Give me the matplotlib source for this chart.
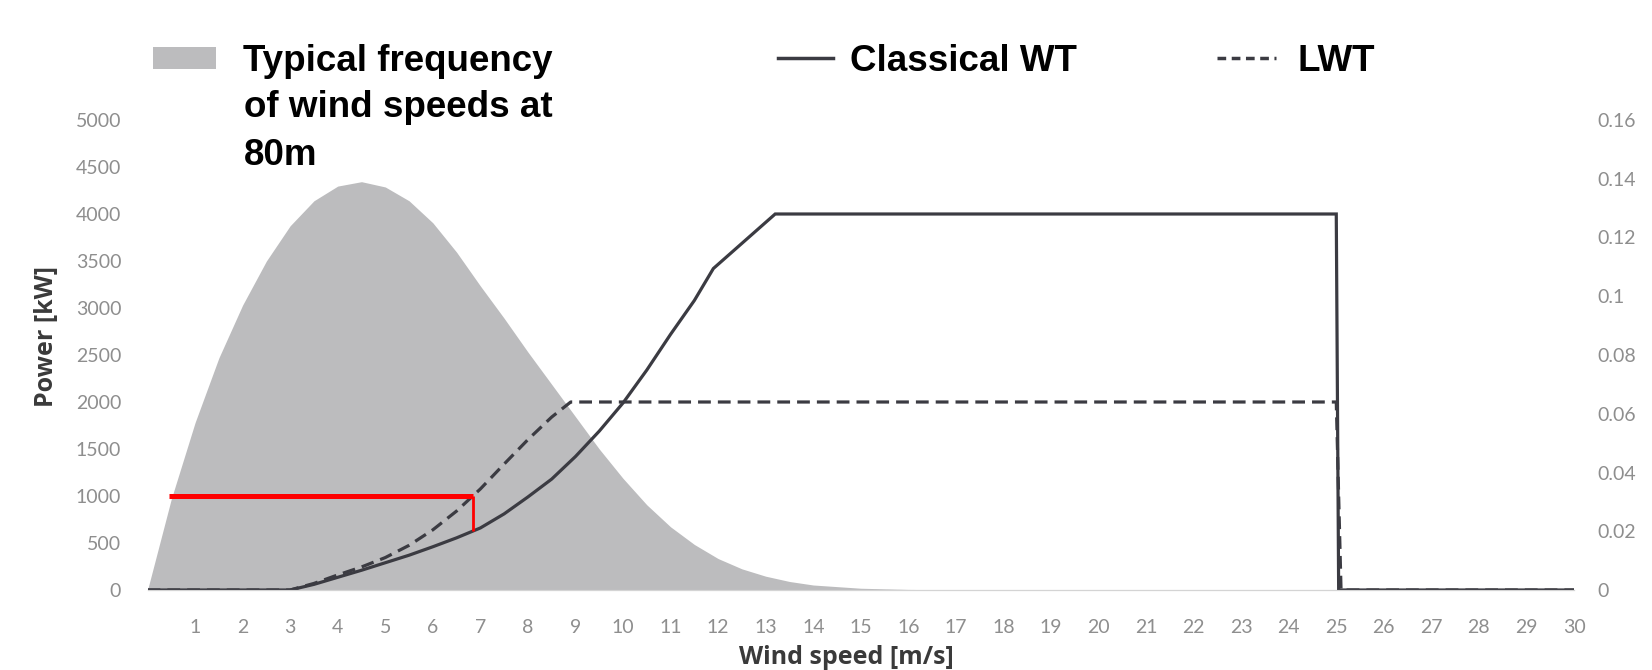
import matplotlib
matplotlib.use("Agg")
import matplotlib.pyplot as plt
from matplotlib.patches import Patch
from matplotlib.lines import Line2D

# data
freq_speed = [0, 0.5, 1, 1.5, 2, 2.5, 3, 3.5, 4, 4.5, 5, 5.5, 6, 6.5, 7, 7.5,
              8, 8.5, 9, 9.5, 10, 10.5, 11, 11.5, 12, 12.5, 13, 13.5, 14, 15, 16, 17, 30]
freq_prob = [0, 0.031, 0.057, 0.079, 0.097, 0.112, 0.124, 0.1325, 0.1375, 0.139,
             0.1372, 0.1325, 0.125, 0.115, 0.1035, 0.0925, 0.081, 0.070, 0.059,
             0.048, 0.038, 0.029, 0.0215, 0.0155, 0.0107, 0.0072, 0.0047, 0.0029,
             0.0017, 0.0006, 0.0002, 0, 0]

classic_speed = [0, 3, 3.5, 4, 4.5, 5, 5.5, 6, 6.5, 7, 7.5, 8, 8.5, 9, 9.5, 10,
                 10.5, 11, 11.5, 11.9, 13.2, 25, 25.05, 30]
classic_power = [0, 0, 60, 135, 210, 290, 370, 460, 555, 660, 810, 990, 1180, 1420,
                 1690, 1990, 2340, 2720, 3080, 3420, 4000, 4000, 0, 0]

lwt_speed = [0, 3, 3.5, 4, 4.5, 5, 5.5, 6, 6.5, 7, 7.5, 8, 8.5, 8.9, 25, 25.1, 30]
lwt_power = [0, 0, 70, 160, 245, 345, 475, 640, 840, 1075, 1340, 1600, 1840, 2000,
             2000, 0, 0]

# red marker: 1000 kW reached by the LWT
mark_power = 1000
mark_speed = 6.85
mark_start = 0.45
mark_classic = 625

x_ticks = list(range(1, 31))
power_ticks = list(range(0, 5001, 500))
prob_ticks = [0, 0.02, 0.04, 0.06, 0.08, 0.1, 0.12, 0.14, 0.16]
prob_labels = ["0", "0.02", "0.04", "0.06", "0.08", "0.1", "0.12", "0.14", "0.16"]

tick_font = "Lato"
label_font = "Open Sans"
legend_font = ["Liberation Sans", "DejaVu Sans"]
gray_fill = "#bcbcbe"
line_col = "#3b3b42"
tick_col = "#8e8e8e"
label_col = "#3a3a3a"

fig = plt.figure(figsize=(16.52, 6.70), dpi=100)
ax = fig.add_axes([0.0893, 0.1194, 0.8635, 0.7015])
ax2 = ax.twinx()

# frequency area on the secondary axis, kept behind the power curves
ax2.fill_between(freq_speed, freq_prob, 0, color=gray_fill, lw=0)
ax2.set_ylim(0, 0.16)
ax2.set_yticks(prob_ticks)
ax2.set_yticklabels(prob_labels)
ax2.set_ylabel("Probability density", fontsize=18, fontweight="bold", color=label_col,
               family=label_font, labelpad=13)

ax.set_zorder(ax2.get_zorder() + 1)
ax.patch.set_visible(False)

ax.plot(classic_speed, classic_power, color=line_col, lw=2.3, solid_joinstyle="miter")
ax.plot(lwt_speed, lwt_power, color=line_col, lw=2.3, dashes=(4, 2.2))

ax.plot([mark_start, mark_speed], [mark_power, mark_power], color="#ff0000",
        lw=3.6, solid_capstyle="butt")
ax.plot([mark_speed, mark_speed], [mark_power, mark_classic], color="#ff0000",
        lw=2.0, solid_capstyle="butt")

ax.set_xlim(0, 30)
ax.set_ylim(0, 5000)
ax.set_xticks(x_ticks)
ax.set_yticks(power_ticks)

for a in (ax, ax2):
    for s in ("top", "left", "right"):
        a.spines[s].set_visible(False)
    a.spines["bottom"].set_color("#d4d4d4")
    a.tick_params(length=0, labelcolor=tick_col, labelsize=14)
    for lab in a.get_xticklabels() + a.get_yticklabels():
        lab.set_family(tick_font)

ax.tick_params(axis="x", pad=21)
ax.tick_params(axis="y", pad=19)
ax2.tick_params(axis="y", pad=17)

ax.set_ylabel("Power [kW]", fontsize=18, fontweight="bold", color=label_col,
              family=label_font)
ax.yaxis.set_label_coords(-0.062, 0.54)
ax.set_xlabel("Wind speed [m/s]", fontsize=18, fontweight="bold", color=label_col,
              family=label_font)
ax.xaxis.set_label_coords(0.49, -0.118)

# legend entries spread across the top
leg_kw = dict(frameon=False, loc="upper left", borderpad=0, borderaxespad=0,
              prop={"family": legend_font, "weight": "bold", "size": 26.5})
top = 1 - 44 / 670
fig.legend(handles=[Patch(facecolor=gray_fill, edgecolor="none")],
           labels=["Typical frequency"], bbox_to_anchor=(153 / 1652, top),
           handlelength=1.7, handleheight=0.55, handletextpad=0.75, **leg_kw)
fig.legend(handles=[Line2D([], [], color=line_col, lw=2.5)],
           labels=["Classical WT"], bbox_to_anchor=(778 / 1652, top),
           handlelength=1.5, handletextpad=0.45, **leg_kw)
fig.legend(handles=[Line2D([], [], color=line_col, lw=2.5, dashes=(2.5, 1.6))],
           labels=["LWT"], bbox_to_anchor=(1217 / 1652, top),
           handlelength=1.6, handletextpad=0.6, **leg_kw)
fig.text(244 / 1652, 1 - 90 / 670, "of wind speeds at\n80m", family=legend_font,
         weight="bold", size=26.5, va="top", ha="left", linespacing=1.47, color="black")

fig.savefig("out.png", dpi=100)
